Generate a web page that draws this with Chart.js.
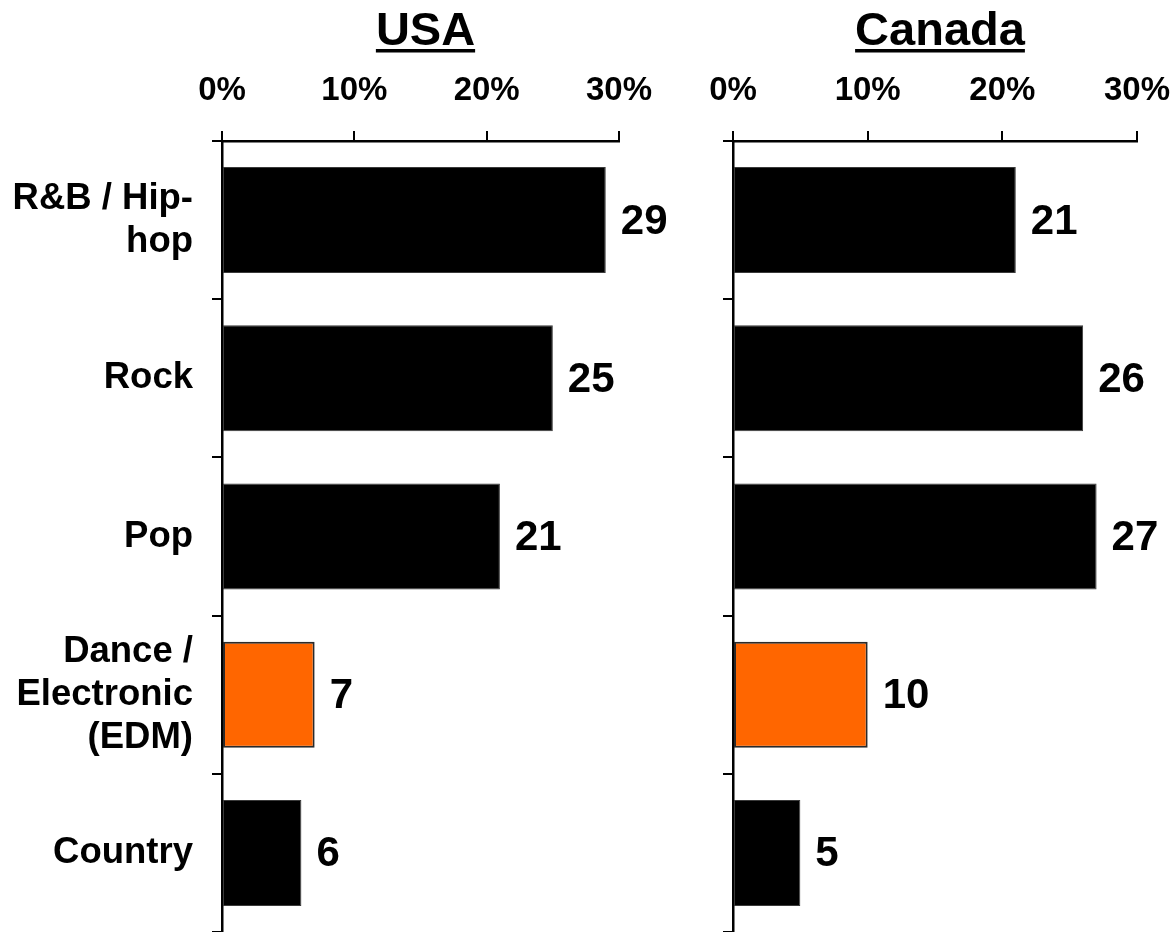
<!DOCTYPE html>
<html>
<head>
<meta charset="utf-8">
<script src="https://cdn.jsdelivr.net/npm/chart.js@4/dist/chart.umd.min.js"></script>
<style>
  html, body { margin: 0; padding: 0; background: #fff; }
  #wrap { position: relative; width: 1174px; height: 932px; overflow: hidden; }
  canvas { position: absolute; top: 0; }
  #usa { left: 0; }
  #canada { left: 690px; }
</style>
</head>
<body>
<div id="wrap">
  <canvas id="usa" width="690" height="932"></canvas>
  <canvas id="canada" width="484" height="932"></canvas>
</div>
<script>
// Music genre shares (%), by country
const genres = [
  ['R&B / Hip-', 'hop'],
  ['Rock'],
  ['Pop'],
  ['Dance /', 'Electronic', '(EDM)'],
  ['Country']
];
const usaShare = [29, 25, 21, 7, 6];
const canadaShare = [21, 26, 27, 10, 5];
const axisTicks = [0, 10, 20, 30];

const FONT = '"Liberation Sans", Arial, Helvetica, sans-serif';
const HIGHLIGHT_INDEX = 3;
const BAR_COLOR = '#000000';
const HIGHLIGHT_COLOR = '#FF6600';

Chart.defaults.font.family = FONT;
Chart.defaults.color = '#000';

// Underlined heading above each panel
const headingPlugin = {
  id: 'heading',
  afterDraw(chart, args, opts) {
    const ctx = chart.ctx;
    const area = chart.chartArea;
    const cx = (area.left + area.right) / 2 + opts.shift;
    ctx.save();
    ctx.font = 'bold 47px ' + FONT;
    ctx.fillStyle = '#000';
    ctx.textAlign = 'center';
    ctx.textBaseline = 'alphabetic';
    ctx.fillText(opts.text, cx, 45);
    const w = ctx.measureText(opts.text).width;
    ctx.fillRect(cx - w / 2, 49, w, 3.5);
    ctx.restore();
  }
};

// Value printed to the right of each bar
const valueLabelPlugin = {
  id: 'valueLabels',
  afterDatasetsDraw(chart) {
    const ctx = chart.ctx;
    const meta = chart.getDatasetMeta(0);
    const data = chart.data.datasets[0].data;
    ctx.save();
    ctx.font = 'bold 42px ' + FONT;
    ctx.fillStyle = '#000';
    ctx.textAlign = 'left';
    ctx.textBaseline = 'middle';
    meta.data.forEach((bar, i) => {
      ctx.fillText(String(data[i]), bar.x + 15, bar.y + 2);
    });
    ctx.restore();
  }
};

function makePanel(canvasId, title, values, showLabels, yWidth, rightPad) {
  return new Chart(document.getElementById(canvasId), {
    type: 'bar',
    data: {
      labels: genres,
      datasets: [{
        data: values,
        backgroundColor: ctx => ctx.dataIndex === HIGHLIGHT_INDEX ? HIGHLIGHT_COLOR : BAR_COLOR,
        borderColor: ctx => ctx.dataIndex === HIGHLIGHT_INDEX ? '#2a2a2a' : '#3a3a3a',
        borderWidth: ctx => ctx.dataIndex === HIGHLIGHT_INDEX ? 2 : 1,
        borderSkipped: false,
        barPercentage: 0.67,
        categoryPercentage: 1.0
      }]
    },
    options: {
      indexAxis: 'y',
      responsive: false,
      animation: false,
      layout: { padding: { left: 0, right: rightPad, top: 0, bottom: 0 } },
      plugins: {
        legend: { display: false },
        tooltip: { enabled: false },
        title: { display: false },
        heading: { text: title, shift: 5 }
      },
      scales: {
        x: {
          position: 'top',
          min: axisTicks[0],
          max: axisTicks[axisTicks.length - 1],
          afterBuildTicks: scale => { scale.ticks = axisTicks.map(v => ({ value: v })); },
          afterFit: scale => {
            scale.height = 141;
            scale.paddingLeft = 0;
            scale.paddingRight = 0;
          },
          ticks: {
            callback: v => v + '%',
            font: { size: 33, weight: 'bold' },
            color: '#000',
            padding: 20,
            maxRotation: 0
          },
          grid: {
            drawOnChartArea: false,
            drawTicks: true,
            tickLength: 10,
            color: '#000',
            lineWidth: 2
          },
          border: { display: true, color: '#000', width: 2.5 }
        },
        y: {
          position: 'left',
          afterFit: scale => {
            scale.width = yWidth;
            scale.paddingTop = 0;
            scale.paddingBottom = 0;
          },
          ticks: {
            display: showLabels,
            font: { size: 36.5, weight: 'bold', lineHeight: '43px' },
            color: '#000',
            padding: 19
          },
          grid: {
            offset: true,
            drawOnChartArea: false,
            drawTicks: true,
            tickLength: 10,
            color: '#000',
            lineWidth: 2
          },
          border: { display: true, color: '#000', width: 2.5 }
        }
      }
    },
    plugins: [headingPlugin, valueLabelPlugin]
  });
}

makePanel('usa', 'USA', usaShare, true, 222, 71);
makePanel('canada', 'Canada', canadaShare, false, 43, 37);
</script>
</body>
</html>
